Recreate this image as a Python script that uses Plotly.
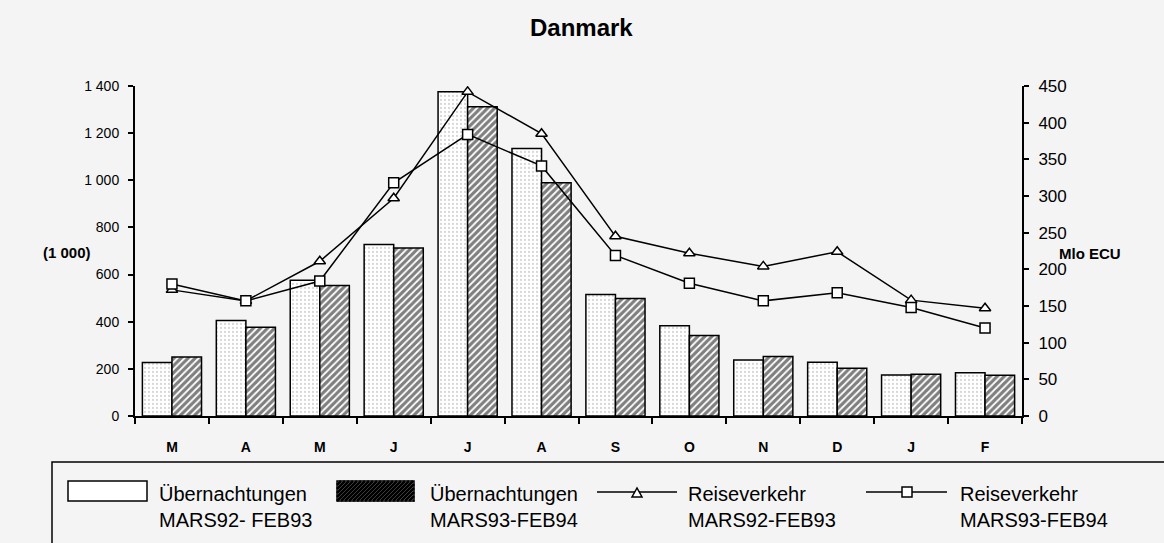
import plotly.graph_objects as go

# months (Mars .. Feb)
months = ['M', 'A', 'M', 'J', 'J', 'A', 'S', 'O', 'N', 'D', 'J', 'F']

# Übernachtungen (1 000)
nights_9293 = [227, 405, 576, 728, 1376, 1135, 515, 383, 238, 228, 174, 184]
nights_9394 = [250, 377, 554, 713, 1312, 990, 498, 342, 252, 203, 177, 173]

# Reiseverkehr (Mio ECU)
travel_9293 = [172, 157, 211, 297, 442, 385, 245, 222, 204, 224, 158, 147]
travel_9394 = [180, 157, 184, 318, 384, 341, 219, 181, 157, 168, 148, 120]

W, H = 1164, 543
L, R, T, B = 135, 1022, 86, 416
FONT = 'Liberation Sans'
BG = '#f4f4f4'


def px(x):
    return (x - L) / (R - L)


def py(y):
    return (B - y) / (B - T)


x = list(range(len(months)))

fig = go.Figure()

fig.add_trace(go.Bar(x=x, y=nights_9293, name='Übernachtungen MARS92- FEB93',
                     marker=dict(color='white', line=dict(color='black', width=1.5),
                                 pattern=dict(shape='.', fgcolor='#b0b0b0', bgcolor='white',
                                              size=4, solidity=0.25))))
fig.add_trace(go.Bar(x=x, y=nights_9394, name='Übernachtungen MARS93-FEB94',
                     marker=dict(color='white', line=dict(color='black', width=1.5),
                                 pattern=dict(shape='/', fgcolor='black', bgcolor='white',
                                              size=5, solidity=0.65))))

fig.add_trace(go.Scatter(x=x, y=travel_9293, yaxis='y2', mode='lines+markers',
                         name='Reiseverkehr MARS92-FEB93',
                         line=dict(color='black', width=1.5),
                         marker=dict(symbol='triangle-up', size=10, color='white',
                                     line=dict(color='black', width=1.5))))
fig.add_trace(go.Scatter(x=x, y=travel_9394, yaxis='y2', mode='lines+markers',
                         name='Reiseverkehr MARS93-FEB94',
                         line=dict(color='black', width=1.5),
                         marker=dict(symbol='square', size=10, color='white',
                                     line=dict(color='black', width=1.5))))

fig.update_layout(
    width=W, height=H, showlegend=False,
    margin=dict(l=L, r=W - R, t=T, b=H - B),
    paper_bgcolor=BG, plot_bgcolor=BG,
    font=dict(family=FONT, color='black'),
    barmode='group', bargap=0.2, bargroupgap=0,
    separators=', ',
    xaxis=dict(range=[-0.5, 11.5], tickmode='array', tickvals=x, ticktext=months,
               ticks='', ticklabelstandoff=17, showgrid=False, zeroline=False,
               showline=True, linecolor='black', linewidth=2,
               tickfont=dict(family=FONT, size=14, color='black', weight='bold'),
               minor=dict(tickvals=[i - 0.5 for i in range(13)], ticks='outside',
                          ticklen=6, tickcolor='black', tickwidth=1.5)),
    yaxis=dict(range=[0, 1400], dtick=200, separatethousands=True,
               ticks='outside', ticklen=5, tickwidth=1.5, tickcolor='black',
               showgrid=False, zeroline=False, showline=True, linecolor='black',
               linewidth=2, ticklabelstandoff=6,
               tickfont=dict(family=FONT, size=14, color='black')),
    yaxis2=dict(range=[0, 450], dtick=50, overlaying='y', side='right',
                ticks='outside', ticklen=5, tickwidth=1.5, tickcolor='black',
                showgrid=False, zeroline=False, showline=True, linecolor='black',
                linewidth=2, ticklabelstandoff=6,
                tickfont=dict(family=FONT, size=17, color='black')),
)

# title and axis units
fig.add_annotation(text='<b>Danmark</b>', xref='paper', yref='paper', x=px(581), y=py(28),
                   yanchor='middle', showarrow=False, font=dict(family=FONT, size=24))
fig.add_annotation(text='<b>(1 000)</b>', xref='paper', yref='paper', x=px(41), y=py(252),
                   yanchor='middle', showarrow=False, font=dict(family=FONT, size=15))
fig.add_annotation(text='<b>Mlo ECU</b>', xref='paper', yref='paper', x=px(1123), y=py(253),
                   yanchor='middle', showarrow=False, font=dict(family=FONT, size=15))

# hand-drawn legend box
fig.add_shape(type='rect', xref='paper', yref='paper', x0=px(52), x1=px(1175),
              y0=py(462), y1=py(560), line=dict(color='black', width=1.5), fillcolor=BG,
              layer='below')
fig.add_shape(type='rect', xref='paper', yref='paper', x0=px(68), x1=px(147),
              y0=py(481), y1=py(501), line=dict(color='black', width=1.5), fillcolor='white')
fig.add_shape(type='rect', xref='paper', yref='paper', x0=px(337), x1=px(414),
              y0=py(481), y1=py(501), line=dict(color='black', width=1.5), fillcolor='white')
hatch = ''
for k in range(337 - 20, 414, 4):
    xa, xb = k, k + 20
    ya, yb = 501, 481
    if xa < 337:
        ya = 501 - (337 - xa)
        xa = 337
    if xb > 414:
        yb = 481 + (xb - 414)
        xb = 414
    hatch += f'M {px(xa)},{py(ya)} L {px(xb)},{py(yb)} '
fig.add_shape(type='path', xref='paper', yref='paper', path=hatch,
              line=dict(color='black', width=2.5))
for x0, x1 in [(597, 677), (866, 947)]:
    fig.add_shape(type='line', xref='paper', yref='paper', x0=px(x0), x1=px(x1),
                  y0=py(492), y1=py(492), line=dict(color='black', width=1.5))
fig.add_shape(type='path', xref='paper', yref='paper',
              path=f'M {px(632)},{py(497)} L {px(642)},{py(497)} L {px(637)},{py(488)} Z',
              line=dict(color='black', width=1.5), fillcolor='white')
fig.add_shape(type='rect', xref='paper', yref='paper', x0=px(902), x1=px(912),
              y0=py(487), y1=py(497), line=dict(color='black', width=1.5), fillcolor='white')

legend_texts = [(157, 'Übernachtungen<br>MARS92- FEB93'),
                (428, 'Übernachtungen<br>MARS93-FEB94'),
                (686, 'Reiseverkehr<br>MARS92-FEB93'),
                (958, 'Reiseverkehr<br>MARS93-FEB94')]
for lx, txt in legend_texts:
    fig.add_annotation(text=txt, xref='paper', yref='paper', x=px(lx), y=py(507),
                       xanchor='left', yanchor='middle', align='left', showarrow=False,
                       font=dict(family=FONT, size=20))

fig.write_html('out.html', config={'displayModeBar': False},
               post_script="document.body.style.margin='0px';")
